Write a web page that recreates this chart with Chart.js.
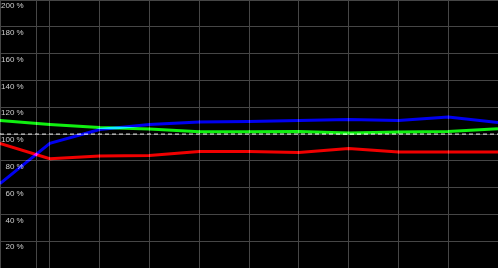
<!DOCTYPE html>
<html>
<head>
<meta charset="utf-8">
<script src="https://cdn.jsdelivr.net/npm/chart.js"></script>
<style>
  html, body { margin: 0; padding: 0; background: #000; }
  #wrap { width: 498px; height: 268px; }
</style>
</head>
<body>
<div id="wrap"><canvas id="myChart"></canvas></div>
<script>
// sample index along the time axis (one per vertical grid line)
const steps = [0, 1, 2, 3, 4, 5, 6, 7, 8, 9, 10];
// percent values
const greenSeries = [110, 107, 104.8, 103.7, 101.6, 101.6, 101.8, 100.8, 101.5, 101.9, 104];
const blueSeries  = [63, 93, 103.4, 107, 109, 109.4, 110.1, 110.9, 110.1, 112.7, 108.6];
const redSeries   = [92.9, 81.6, 83.6, 84, 86.9, 86.9, 86.2, 89.1, 86.5, 86.5, 86.5];
const reference   = [100, 100, 100, 100, 100, 100, 100, 100, 100, 100, 100];
const yTicks = [0, 20, 40, 60, 80, 100, 120, 140, 160, 180, 200];
const extraGridX = [0.74];

const toPoints = (vals) => vals.map((v, i) => ({ x: steps[i], y: v }));

// black backdrop, then lines added together like light
const blackBg = {
  id: "blackBg",
  beforeDraw(chart) {
    const c = chart.ctx;
    c.save();
    c.fillStyle = "#000";
    c.fillRect(0, 0, chart.width, chart.height);
    c.restore();
  },
  beforeDatasetsDraw(chart) {
    chart.ctx.save();
    chart.ctx.globalCompositeOperation = "lighter";
  },
  afterDatasetsDraw(chart) {
    chart.ctx.restore();
  },
};

// no room kept around the plot: labels sit inside it
const noPadding = (axis) => {
  axis.paddingLeft = 0;
  axis.paddingRight = 0;
  axis.paddingTop = 0;
  axis.paddingBottom = 0;
  if (axis.isHorizontal()) axis.height = 0;
  else axis.width = 0;
};

const line = (data, color, extra = {}) => Object.assign({
  data: toPoints(data),
  borderColor: color,
  borderWidth: 3,
  pointRadius: 0,
  tension: 0,
  fill: false,
}, extra);

new Chart(document.getElementById("myChart"), {
  type: "line",
  data: {
    datasets: [
      line(reference, "#c8c8c8", { borderWidth: 1, borderDash: [4, 3] }),
      line(redSeries, "#f00000"),
      line(greenSeries, "#10f010"),
      line(blueSeries, "#0000f0"),
    ],
  },
  options: {
    responsive: true,
    maintainAspectRatio: false,
    animation: false,
    layout: { padding: 0 },
    plugins: { legend: { display: false }, tooltip: { enabled: false } },
    scales: {
      x: {
        type: "linear",
        min: 0,
        max: 10,
        afterBuildTicks(axis) {
          const t = steps.map((v) => ({ value: v }));
          extraGridX.forEach((v) => t.push({ value: v }));
          t.sort((a, b) => a.value - b.value);
          axis.ticks = t;
        },
        afterFit: noPadding,
        grid: { color: "#464646", drawTicks: false },
        border: { display: false },
        ticks: { display: false },
      },
      y: {
        min: 0,
        max: 200,
        afterBuildTicks(axis) {
          axis.ticks = yTicks.map((v) => ({ value: v }));
        },
        afterFit: noPadding,
        grid: { color: "#464646", drawTicks: false },
        border: { display: false },
        ticks: {
          mirror: true,
          crossAlign: "far",
          padding: 1,
          labelOffset: 6,
          color: "#cfcfcf",
          font: { family: "Liberation Sans", size: 8 },
          callback: (v) => (v === 0 ? "" : v + " %"),
        },
      },
    },
  },
  plugins: [blackBg],
});
</script>
</body>
</html>
